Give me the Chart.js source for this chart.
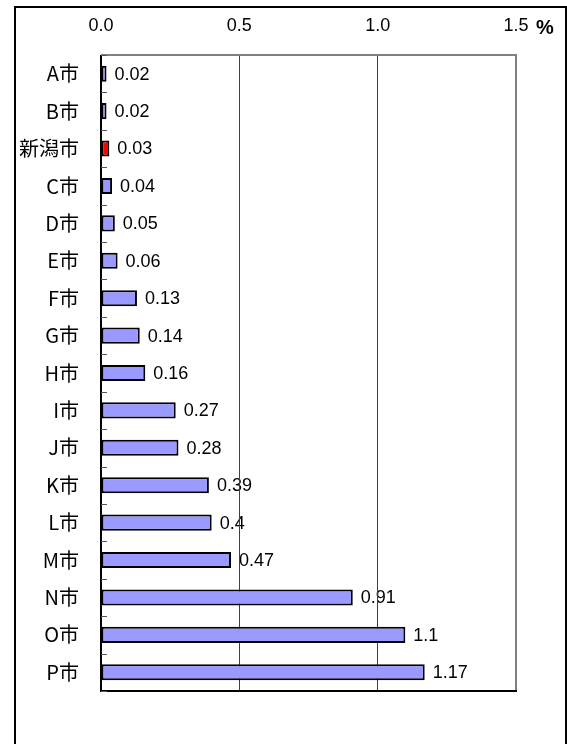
<!DOCTYPE html>
<html>
<head>
<meta charset="utf-8">
<script src="https://cdn.jsdelivr.net/npm/chart.js@4"></script>
<style>
    html, body { margin: 0; padding: 0; background: #fff; }
    .wrap { position: relative; width: 567px; height: 744px; overflow: hidden; }
    .frame { position: absolute; left: 14px; top: 6px; width: 553px; height: 800px; box-sizing: border-box; border: 2px solid #000; border-bottom: none; }
    canvas { position: absolute; left: 0; top: 0; }
</style>
</head>
<body>
<div class="wrap">
    <div class="frame"></div>
    <canvas id="chart" width="567" height="744"></canvas>
</div>
<script>
// data
const cities = ['A市', 'B市', '新潟市', 'C市', 'D市', 'E市', 'F市', 'G市', 'H市', 'I市', 'J市', 'K市', 'L市', 'M市', 'N市', 'O市', 'P市'];
const rates = [0.02, 0.02, 0.03, 0.04, 0.05, 0.06, 0.13, 0.14, 0.16, 0.27, 0.28, 0.39, 0.4, 0.47, 0.91, 1.1, 1.17];
const xTicks = [0.0, 0.5, 1.0, 1.5];
const unitLabel = '%';
const highlight = '新潟市';

const numFont = '"Liberation Sans", Arial, sans-serif';
const jpFont = '"Noto Sans CJK JP", sans-serif';

// value labels go under the gridlines, like the original
const valueLabels = {
    id: 'valueLabels',
    beforeDraw(chart) {
        const ctx = chart.ctx;
        const meta = chart.getDatasetMeta(0);
        ctx.save();
        ctx.fillStyle = '#000';
        ctx.font = '18px ' + numFont;
        ctx.textAlign = 'left';
        ctx.textBaseline = 'middle';
        meta.data.forEach((bar, i) => {
            ctx.fillText(String(rates[i]), bar.x + 8, bar.y + 1);
        });
        ctx.restore();
    }
};

// plot frame, category ticks and the unit label
const frame = {
    id: 'frame',
    afterDatasetsDraw(chart) {
        const { ctx, chartArea: a, scales } = chart;
        ctx.save();
        ctx.lineWidth = 2;
        ctx.strokeStyle = '#808080';
        ctx.beginPath();
        ctx.moveTo(a.left, a.top);
        ctx.lineTo(a.right, a.top);
        ctx.lineTo(a.right, a.bottom);
        ctx.stroke();
        ctx.strokeStyle = '#000';
        ctx.beginPath();
        ctx.moveTo(a.right + 1, a.bottom);
        ctx.lineTo(a.left, a.bottom);
        ctx.lineTo(a.left, a.top);
        ctx.stroke();

        ctx.lineWidth = 1;
        ctx.strokeStyle = '#555';
        ctx.beginPath();
        for (let i = 0; i <= cities.length; i++) {
            const y = Math.round(scales.y.getPixelForValue(i - 0.5)) + 0.5;
            ctx.moveTo(a.left, y);
            ctx.lineTo(a.left + 6, y);
        }
        ctx.stroke();

        ctx.fillStyle = '#000';
        ctx.font = 'bold 20px ' + numFont;
        ctx.textAlign = 'center';
        ctx.textBaseline = 'middle';
        ctx.fillText(unitLabel, a.right + 29, 28);
        ctx.restore();
    }
};

new Chart(document.getElementById('chart'), {
    type: 'bar',
    data: {
        labels: cities,
        datasets: [{
            data: rates,
            backgroundColor: cities.map(c => c === highlight ? '#ff0000' : '#9999ff'),
            borderColor: '#000',
            borderWidth: 2,
            borderSkipped: false,
            barPercentage: 0.43,
            categoryPercentage: 1
        }]
    },
    options: {
        indexAxis: 'y',
        responsive: false,
        animation: false,
        layout: { padding: { left: 0, top: 0, right: 51, bottom: 53 } },
        plugins: { legend: { display: false }, tooltip: { enabled: false } },
        scales: {
            x: {
                position: 'top',
                min: xTicks[0],
                max: xTicks[xTicks.length - 1],
                afterBuildTicks: s => { s.ticks = xTicks.map(v => ({ value: v })); },
                afterFit: s => { s.height = 55; },
                border: { display: false },
                grid: {
                    drawTicks: false,
                    lineWidth: 1,
                    color: ctx => (ctx.tick && (ctx.tick.value === xTicks[0] || ctx.tick.value === xTicks[xTicks.length - 1])) ? 'rgba(0,0,0,0)' : '#404040'
                },
                ticks: {
                    padding: 18,
                    color: '#000',
                    font: { family: numFont, size: 18 },
                    callback: v => Number(v).toFixed(1)
                }
            },
            y: {
                afterFit: s => { s.width = 101; },
                border: { display: false },
                grid: { display: false, offset: true },
                ticks: {
                    padding: 14,
                    color: '#000',
                    font: { family: jpFont, size: 20 }
                }
            }
        }
    },
    plugins: [valueLabels, frame]
});
</script>
</body>
</html>
